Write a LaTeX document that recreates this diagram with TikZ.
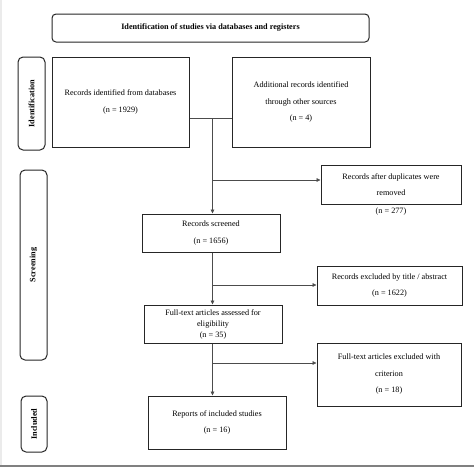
\documentclass[tikz,border=0pt]{standalone}
\usepackage{fontspec}
\setmainfont{Liberation Serif}
\usetikzlibrary{arrows.meta}
\begin{document}
\begin{tikzpicture}[x=1pt,y=-1pt,
  box/.style={draw=black!85,line width=1pt,inner sep=0pt,align=center,
    font=\fontsize{8.2}{16.5}\selectfont},
  tight/.style={font=\fontsize{8.2}{11}\selectfont},
  side/.style={draw=black!85,line width=1pt,rounded corners=5pt,inner sep=0pt},
  sidetext/.style={rotate=90,font=\fontsize{8.2}{9}\selectfont\bfseries,inner sep=0pt},
  conn/.style={draw=black!70,line width=0.6pt},
  arr/.style={conn,-{Triangle[length=4pt,width=3.6pt]}}]
\useasboundingbox (0,0) rectangle (474,467);
\fill[white] (0,0) rectangle (474,467);
\fill[black!8] (0,0) rectangle (1.5,467);
\fill[black!50] (0,464.5) rectangle (474,467);
% title
\node[box,rounded corners=4pt,minimum width=317pt,minimum height=28pt,
  font=\fontsize{8.2}{9}\selectfont\bfseries] (title) at (210.5,28)
  {Identification of studies via databases and registers};
% side labels
\node[side,minimum width=27pt,minimum height=93pt] (idside) at (31.5,103.5) {};
\node[sidetext] (idtext) at (idside.center) {Identification};
\node[side,minimum width=27pt,minimum height=190pt] (scrside) at (33.5,265) {};
\node[sidetext] (scrtext) at (scrside.center) {Screening};
\node[side,minimum width=26pt,minimum height=56pt] (incside) at (34,424) {};
\node[sidetext] (inctext) at (incside.center) {Included};
% boxes
\node[box,minimum width=137pt,minimum height=90pt] (rid) at (120.5,102)
  {Records identified from databases\\(n = 1929)};
\node[box,minimum width=138pt,minimum height=90pt] (add) at (301,102)
  {Additional records identified\\through other sources\\(n = 4)};
\node[box,minimum width=140pt,minimum height=39pt] (dup) at (391,184.5)
  {Records after duplicates were\\removed};
\node[font=\fontsize{8.2}{9}\selectfont,inner sep=0pt] (dupn) at (391,212) {(n = 277)};
\node[box,minimum width=138pt,minimum height=38pt] (scr) at (211,233)
  {Records screened\\(n = 1656)};
\node[box,minimum width=145pt,minimum height=39pt] (excl) at (389.5,285.5)
  {Records excluded by title / abstract\\(n = 1622)};
\node[box,tight,minimum width=138pt,minimum height=38pt] (fta) at (213,324)
  {Full-text articles assessed for\\eligibility\\(n = 35)};
\node[box,minimum width=144pt,minimum height=63pt] (fte) at (389,374.5)
  {Full-text articles excluded with\\criterion\\(n = 18)};
\node[box,minimum width=138pt,minimum height=53pt] (rep) at (217,422.5)
  {Reports of included studies\\(n = 16)};
% connectors
\coordinate (m) at (212.5,118);
\coordinate (b1) at (212.5,180);
\coordinate (b2) at (212.5,285);
\coordinate (b3) at (212.5,363);
\draw[conn] (rid.east |- m) -- (add.west |- m);
\draw[arr] (m) -- (m |- scr.north);
\draw[arr] (b1) -- (dup.west |- b1);
\draw[arr] (m |- scr.south) -- (m |- fta.north);
\draw[arr] (b2) -- (excl.west |- b2);
\draw[arr] (m |- fta.south) -- (m |- rep.north);
\draw[arr] (b3) -- (fte.west |- b3);
\end{tikzpicture}
\end{document}
